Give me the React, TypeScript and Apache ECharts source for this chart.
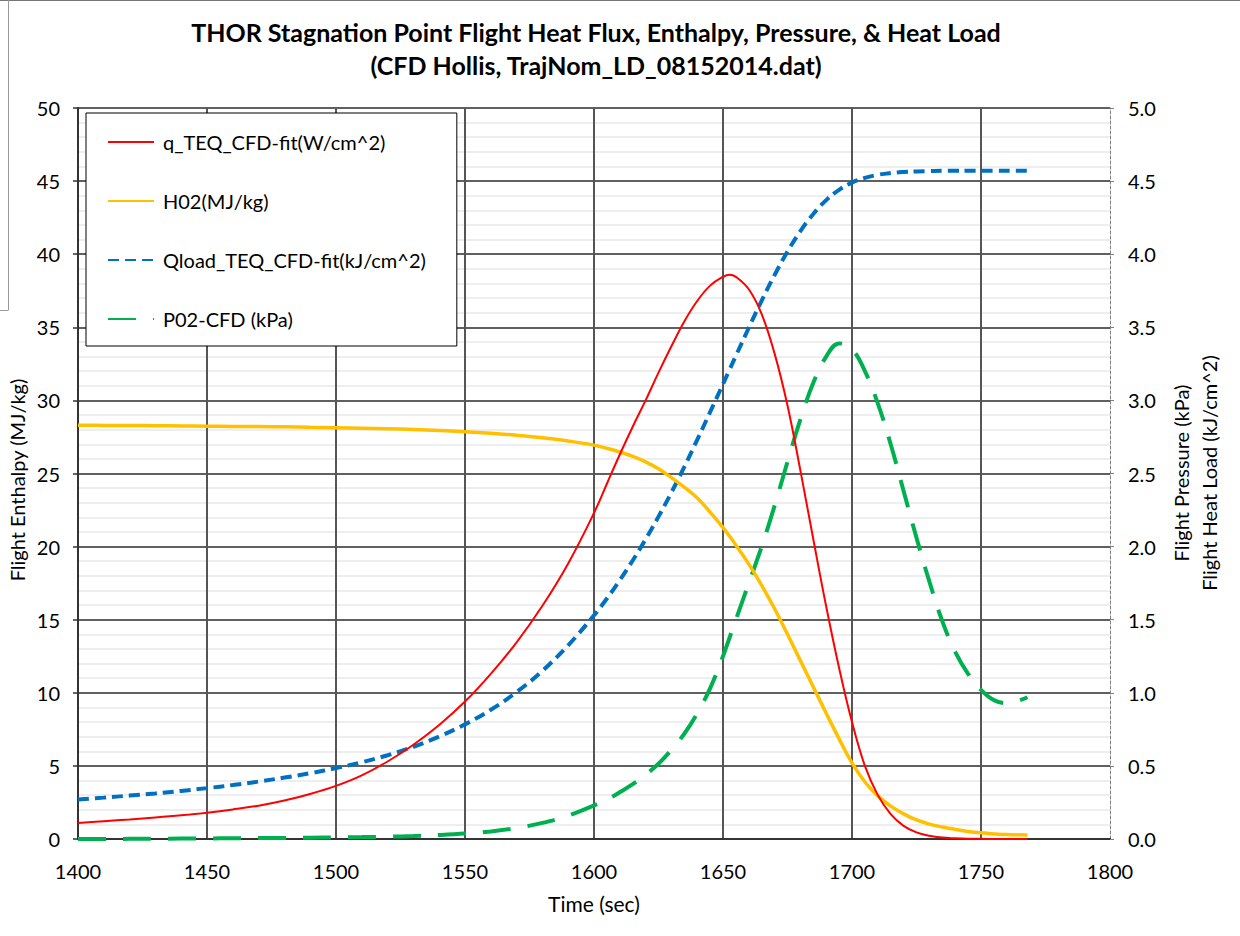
import React, { useEffect, useRef } from "react";
import * as echarts from "echarts";

const times = [1400, 1410, 1420, 1430, 1440, 1450, 1460, 1470, 1480, 1490, 1500, 1510, 1520, 1530, 1540, 1550, 1560, 1570, 1580, 1590, 1600,
  1605, 1610, 1615, 1620, 1625, 1630, 1635, 1640, 1645, 1650, 1652.5, 1655, 1660, 1665, 1670, 1675, 1680, 1685, 1690, 1695, 1700,
  1705, 1710, 1715, 1720, 1725, 1730, 1735, 1740, 1745, 1750, 1755, 1760, 1768];

const qTeq = [1.1, 1.22, 1.34, 1.47, 1.62, 1.8, 2.02, 2.28, 2.63, 3.08, 3.63, 4.35, 5.3, 6.45, 7.8, 9.4, 11.3, 13.45, 15.95, 18.85, 22.3,
  24.3, 26.3, 28.2, 30.0, 31.9, 33.7, 35.4, 36.8, 37.85, 38.45, 38.6, 38.45, 37.6, 35.9, 33.2, 29.65, 25.2, 20.5, 15.9, 11.7, 8.0,
  5.0, 3.0, 1.7, 0.9, 0.45, 0.22, 0.1, 0.05, 0.02, 0.01, 0.0, 0.0, 0.0];

const h02 = [28.3, 28.29, 28.28, 28.27, 28.25, 28.24, 28.22, 28.21, 28.19, 28.16, 28.13, 28.1, 28.06, 28.01, 27.94, 27.86, 27.75, 27.61, 27.44, 27.22, 26.94,
  26.72, 26.47, 26.17, 25.8, 25.32, 24.72, 24.06, 23.32, 22.36, 21.3, 20.72, 20.1, 18.8, 17.35, 15.75, 14.0, 12.2, 10.4, 8.6, 6.85, 5.2,
  3.9, 2.95, 2.25, 1.72, 1.3, 1.02, 0.82, 0.66, 0.52, 0.42, 0.35, 0.3, 0.27];

const qload = [0.27, 0.283, 0.297, 0.312, 0.329, 0.348, 0.369, 0.393, 0.42, 0.45, 0.485, 0.525, 0.573, 0.631, 0.701, 0.784, 0.884, 1.005, 1.15, 1.325, 1.53,
  1.645, 1.77, 1.905, 2.05, 2.205, 2.37, 2.545, 2.73, 2.92, 3.112, 3.208, 3.305, 3.497, 3.683, 3.858, 4.018, 4.158, 4.275, 4.37, 4.44, 4.49,
  4.522, 4.543, 4.555, 4.562, 4.566, 4.568, 4.57, 4.57, 4.57, 4.57, 4.57, 4.57, 4.57];

const p02 = [0, 0, 0.001, 0.002, 0.003, 0.004, 0.005, 0.006, 0.007, 0.009, 0.011, 0.013, 0.016, 0.02, 0.027, 0.037, 0.052, 0.075, 0.11, 0.16, 0.23,
  0.27, 0.32, 0.375, 0.44, 0.515, 0.61, 0.72, 0.86, 1.03, 1.25, 1.375, 1.5, 1.75, 2.0, 2.28, 2.58, 2.87, 3.12, 3.3, 3.39, 3.35,
  3.2, 2.98, 2.7, 2.38, 2.06, 1.76, 1.49, 1.28, 1.13, 1.02, 0.95, 0.93, 0.97];

const seriesNames = [
  "q_TEQ_CFD-fit(W/cm^2)",
  "H02(MJ/kg)",
  "Qload_TEQ_CFD-fit(kJ/cm^2)",
  "P02-CFD (kPa)",
];

const titleLines = [
  "THOR Stagnation Point Flight Heat Flux, Enthalpy, Pressure, & Heat Load",
  "(CFD Hollis, TrajNom_LD_08152014.dat)",
];
const leftAxisTitle = "Flight Enthalpy (MJ/kg)";
const rightAxisTitles = ["Flight Pressure (kPa)", "Flight Heat Load (kJ/cm^2)"];
const xAxisTitle = "Time (sec)";

const FONT = "Lato, 'Open Sans', sans-serif";

export default function App() {
  const ref = useRef<HTMLDivElement>(null);
  useEffect(() => {
    document.body.style.margin = "0";
    if (!ref.current) return;
    const chart = echarts.init(ref.current, null, { renderer: "svg" });
    const pair = (arr: number[]) => times.map((t, i) => [t, arr[i]]);
    const vColors = ["#555", "#555", "#555", "#555", "#555", "#555", "#555", "#555", "rgba(0,0,0,0)"];
    chart.setOption({
      animation: false,
      backgroundColor: "#fff",
      textStyle: { fontFamily: FONT },
      grid: { left: 78, right: 130, top: 108, bottom: 97 },
      legend: {
        orient: "vertical",
        left: 86,
        top: 113,
        data: seriesNames,
        backgroundColor: "#fff",
        borderColor: "#000",
        borderWidth: 1,
        borderRadius: 0,
        padding: [19, 31, 17, 21],
        itemWidth: 46,
        itemHeight: 16,
        itemGap: 39,
        itemStyle: { opacity: 0 },
        textStyle: { fontFamily: FONT, fontSize: 20, color: "#000", lineHeight: 20, padding: [0, 0, 0, 4] },
      },
      xAxis: {
        type: "value",
        min: 1400,
        max: 1800,
        interval: 50,
        axisLine: { show: true, onZero: false, lineStyle: { color: "#333", width: 2 } },
        axisTick: { show: false },
        axisLabel: { fontFamily: FONT, fontSize: 20, color: "#000", margin: 22, formatter: (v: number) => String(v) },
        splitLine: { show: true, lineStyle: { color: vColors, width: 2 } },
      },
      yAxis: [
        {
          type: "value",
          min: 0,
          max: 50,
          interval: 5,
          position: "left",
          axisLine: { show: true, lineStyle: { color: "#333", width: 2 } },
          axisTick: { show: true, length: 5, lineStyle: { color: "#333", width: 1.5 } },
          axisLabel: { fontFamily: FONT, fontSize: 20, color: "#000", margin: 18 },
          splitLine: { show: true, lineStyle: { color: "#2b2b2b", width: 1.5 } },
          minorTick: { show: false, splitNumber: 5 },
          minorSplitLine: { show: true, lineStyle: { color: "#e8e8e8", width: 1.5 } },
        },
        {
          type: "value",
          min: 0,
          max: 5,
          interval: 0.5,
          position: "right",
          axisLine: { show: true, lineStyle: { color: "#808080", width: 1, type: [3, 2] } },
          axisTick: { show: true, length: 4, lineStyle: { color: "#808080" } },
          axisLabel: {
            fontFamily: FONT,
            fontSize: 20,
            color: "#000",
            margin: 18,
            formatter: (v: number) => v.toFixed(1),
          },
          splitLine: { show: false },
        },
      ],
      series: [
        {
          name: seriesNames[0],
          type: "line",
          yAxisIndex: 0,
          data: pair(qTeq),
          symbol: "none",
          smooth: 0.4,
          lineStyle: { color: "#FF0000", width: 2 },
          itemStyle: { color: "#FF0000" },
          z: 5,
        },
        {
          name: seriesNames[1],
          type: "line",
          yAxisIndex: 0,
          data: pair(h02),
          symbol: "none",
          smooth: 0.4,
          lineStyle: { color: "#FFC000", width: 3.5 },
          itemStyle: { color: "#FFC000" },
          z: 4,
        },
        {
          name: seriesNames[2],
          type: "line",
          yAxisIndex: 1,
          data: pair(qload),
          symbol: "none",
          smooth: 0.4,
          lineStyle: { color: "#0070C0", width: 4, type: [11, 6] },
          itemStyle: { color: "#0070C0" },
          z: 3,
        },
        {
          name: seriesNames[3],
          type: "line",
          yAxisIndex: 1,
          data: pair(p02),
          symbol: "none",
          smooth: 0.4,
          lineStyle: { color: "#00B050", width: 4, type: [28, 17] },
          itemStyle: { color: "#00B050" },
          z: 3,
        },
      ],
      graphic: [
        { type: "line", shape: { x1: 0, y1: 0.5, x2: 1240, y2: 0.5 }, style: { stroke: "#777", lineWidth: 1 } },
        { type: "line", shape: { x1: 8.5, y1: 0, x2: 8.5, y2: 310 }, style: { stroke: "#999", lineWidth: 1 } },
        { type: "line", shape: { x1: 0, y1: 310.5, x2: 8.5, y2: 310.5 }, style: { stroke: "#999", lineWidth: 1 } },
        {
          type: "text",
          x: 596,
          y: 32,
          style: { text: titleLines[0], align: "center", verticalAlign: "middle", font: `bold 25px ${FONT}`, fill: "#000" },
        },
        {
          type: "text",
          x: 596,
          y: 65,
          style: { text: titleLines[1], align: "center", verticalAlign: "middle", font: `bold 25px ${FONT}`, fill: "#000" },
        },
        {
          type: "text",
          x: 17,
          y: 480,
          rotation: Math.PI / 2,
          style: { text: leftAxisTitle, align: "center", verticalAlign: "middle", font: `20px ${FONT}`, fill: "#000" },
        },
        {
          type: "text",
          x: 1181,
          y: 473,
          rotation: Math.PI / 2,
          style: { text: rightAxisTitles[0], align: "center", verticalAlign: "middle", font: `20px ${FONT}`, fill: "#000" },
        },
        {
          type: "text",
          x: 1209,
          y: 473,
          rotation: Math.PI / 2,
          style: { text: rightAxisTitles[1], align: "center", verticalAlign: "middle", font: `20px ${FONT}`, fill: "#000" },
        },
        {
          type: "text",
          x: 594,
          y: 903,
          style: { text: xAxisTitle, align: "center", verticalAlign: "middle", font: `21px ${FONT}`, fill: "#000" },
        },
      ],
    });
    return () => chart.dispose();
  }, []);
  return <div ref={ref} style={{ width: 1240, height: 936 }} />;
}
